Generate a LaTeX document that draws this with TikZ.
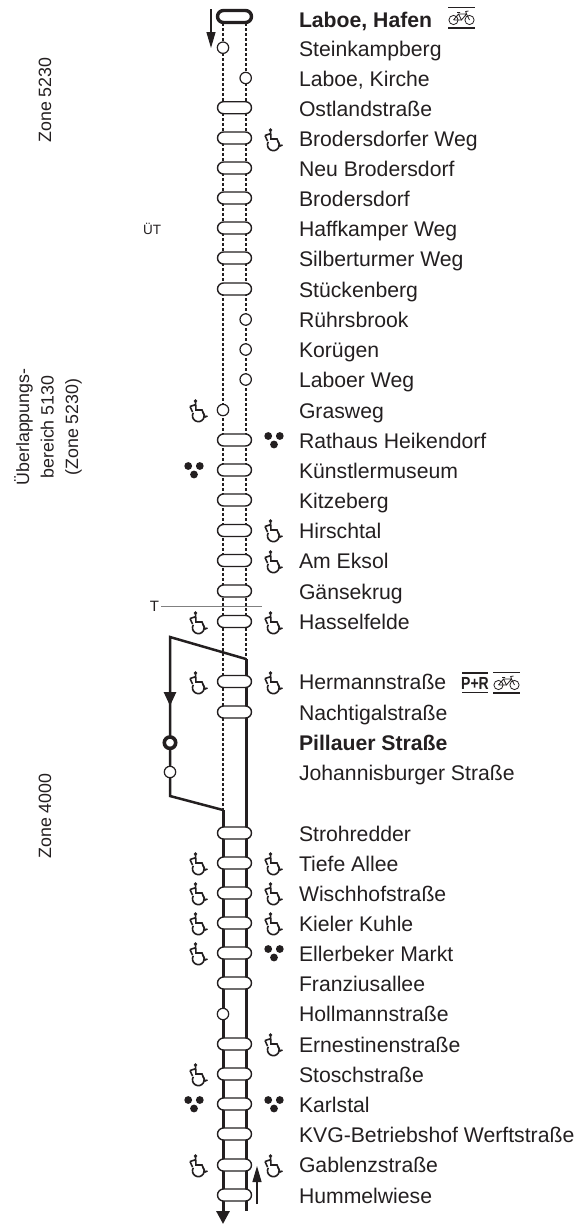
\documentclass[tikz,border=0pt]{standalone}
\usepackage{fontspec}
\setmainfont{Liberation Sans}
\usetikzlibrary{arrows.meta}
\definecolor{ink}{HTML}{231F20}
\tikzset{
  x=1pt,y=-1pt,
  every node/.style={text=ink,inner sep=0pt,outer sep=0pt},
  stoppill/.style={draw=ink,fill=white,line width=1.4pt,minimum width=34pt,minimum height=12pt,rounded corners=6pt},
  endpill/.style={stoppill,line width=3.4pt,minimum width=34pt,minimum height=12pt,rounded corners=6pt},
  halt/.style={circle,draw=ink,fill=white,line width=1.2pt,minimum size=11.4pt},
  bighalt/.style={circle,draw=ink,fill=white,line width=3.6pt,minimum size=11.4pt},
  dotted track/.style={draw=ink,line width=2.9pt,dash pattern=on 2.6pt off 2.4pt},
  solid track/.style={draw=ink,line width=3pt},
  thin arrow/.style={draw=ink,line width=1.2pt,-{Triangle[length=16pt,width=9pt]}},
  label/.style={anchor=base west,font=\fontsize{21.2}{24}\selectfont},
  side/.style={font=\fontsize{17.8}{24.5}\selectfont,rotate=90,align=center},
  icon/.style={draw=ink,line width=1.6pt,fill=none},
  chair/.pic={
    \fill[ink] (-2.5,-9) circle (1.9);
    \draw[icon] (-2.5,-8) -- (-2,0) -- (4,0) -- (7,7) -- (9.5,6);
    \draw[icon] (-8,-3.5) -- (-2,-5.5);
    \draw[icon] (-8,-3.5) -- (-5.5,2);
    \draw[icon] (-4.75,2.8) arc[start angle=210,end angle=-40,radius=5.9];
  },
  dots/.pic={
    \fill[ink] (-5.8,-4) circle (3.9) (5.8,-4) circle (3.9) (0,4.5) circle (3.9);
  },
  bike/.pic={
    \draw[ink,line width=1.2pt] (-13.5,-10) -- (13.5,-10) (-13.5,10.5) -- (13.5,10.5);
    \draw[ink,line width=.8pt] (-8,2.5) circle (4.6) (8,2.5) circle (4.6)
      (-8,2.5) -- (-3,-3.5) -- (5,-3.5) -- (8,2.5) (-3,-3.5) -- (0,2.5) -- (5,-3.5) (0,2.5) -- (-8,2.5)
      (-4.5,-5) -- (-1.5,-5) (5,-3.5) -- (4.2,-6) -- (7,-6.5);
  },
}
\begin{document}
\begin{tikzpicture}
\useasboundingbox (0,0) rectangle (575,1224);
\coordinate (Ltop) at (223,18);
\coordinate (Rtop) at (246,18);
\coordinate (Lchange) at (223,810);
\coordinate (Rchange) at (246,659);
\coordinate (Lend) at (223,1210);
\coordinate (Rend) at (246,1211);
\coordinate (Dtop) at (170,637);
\coordinate (Dbot) at (170,796);
\coordinate (Larrowend) at (223,1224);
\path[dotted track] (Ltop) -- (Lchange);
\path[dotted track] (Rtop) -- (Rchange);
\path[solid track] (Lchange) -- (Lend);
\path[solid track] (Rchange) -- (Rend);
\draw[ink,line width=2.5pt,line join=miter] (Rchange) -- (Dtop) -- (Dbot) -- (Lchange);
\draw[ink,line width=3pt,-{Triangle[length=13pt,width=13pt]}] (Lend) -- (Larrowend);
\coordinate (Darrow) at (170,706);
\draw[ink,line width=2.5pt,-{Triangle[length=14pt,width=12pt]}] (Dtop) -- (Darrow);
\node[anchor=center,font=\fontsize{15}{17}\selectfont] (tlabel) at (154.5,606) {T};
\coordinate (tend) at (262,606.5);
\draw[gray,line width=.6pt] (tlabel.east) ++(2,0.5) -- (tend);
\foreach \n/\x/\y/\st in {
 s1/234.5/16.5/endpill,
 s2/223/47.7/halt, s3/245.7/78/halt,
 s4/234.5/107.7/stoppill, s5/234.5/138/stoppill, s6/234.5/168/stoppill, s7/234.5/198/stoppill,
 s8/234.5/228/stoppill, s9/234.5/258/stoppill, s10/234.5/289/stoppill,
 s11/245.7/319.5/halt, s12/245.7/349.5/halt, s13/245.7/379.5/halt, s14/223/410/halt,
 s15/234.5/440/stoppill, s16/234.5/470/stoppill, s17/234.5/500/stoppill, s18/234.5/530.5/stoppill,
 s19/234.5/560.5/stoppill, s20/234.5/591/stoppill, s21/234.5/621.5/stoppill,
 s22/234.5/681.5/stoppill, s23/234.5/712/stoppill,
 s24/170/742.7/bighalt, s25/170/772/halt,
 s26/234.5/833/stoppill, s27/234.5/863/stoppill, s28/234.5/893/stoppill, s29/234.5/923/stoppill,
 s30/234.5/953/stoppill, s31/234.5/983/stoppill, s32/223/1014/halt, s33/234.5/1044/stoppill,
 s34/234.5/1074/stoppill, s35/234.5/1104/stoppill, s36/234.5/1134/stoppill, s37/234.5/1165/stoppill,
 s38/234.5/1195/stoppill}
 {\node[\st] (\n) at (\x,\y) {};}
\coordinate (a1s) at (211,9); \coordinate (a1e) at (211,48);
\draw[thin arrow] (a1s) -- (a1e);
\coordinate (a2s) at (257,1204); \coordinate (a2e) at (257,1166);
\draw[thin arrow] (a2s) -- (a2e);
\node[label,font=\fontsize{21.2}{24}\selectfont\bfseries] (l1) at (299,27) {Laboe, Hafen};
\foreach \n/\y/\t in {
 l2/56.5/Steinkampberg, l3/86.5/{Laboe, Kirche}, l4/116.5/Ostlandstraße, l5/146.5/Brodersdorfer Weg,
 l6/176.5/Neu Brodersdorf, l7/206.5/Brodersdorf, l8/236.5/Haffkamper Weg, l9/266.5/Silberturmer Weg,
 l10/297/Stückenberg, l11/327.5/Rührsbrook, l12/357.5/Korügen, l13/387.5/Laboer Weg, l14/418/Grasweg,
 l15/448/Rathaus Heikendorf, l16/478/Künstlermuseum, l17/508/Kitzeberg, l18/538.5/Hirschtal,
 l19/568.5/Am Eksol, l20/599/Gänsekrug, l21/629/Hasselfelde, l22/689.5/Hermannstraße,
 l23/720/Nachtigalstraße, l25/780/Johannisburger Straße, l26/841/Strohredder, l27/871/Tiefe Allee,
 l28/901/Wischhofstraße, l29/931/Kieler Kuhle, l30/961/Ellerbeker Markt, l31/991/Franziusallee,
 l32/1021.5/Hollmannstraße, l33/1052/Ernestinenstraße, l34/1082/Stoschstraße, l35/1112/Karlstal,
 l36/1142/KVG-Betriebshof Werftstraße, l37/1172.5/Gablenzstraße, l38/1203/Hummelwiese}
 {\node[label] (\n) at (299,\y) {\t};}
\node[label,font=\fontsize{21.2}{24}\selectfont\bfseries] (l24) at (299,750) {Pillauer Straße};
\node[side] (z1) at (45,100) {Zone 5230};
\node[side] (z2) at (48,427) {Überlappungs-\\bereich 5130\\(Zone 5230)};
\node[side] (z3) at (45,816) {Zone 4000};
\node[font=\fontsize{13.5}{16}\selectfont] (ut) at (152,229) {ÜT};
\foreach \x/\y in {273/139,273/530,273/561,273/622,273/682,273/863,273/893,273/923,273/1044,273/1165,
 198/410,198/622,198/682,198/863,198/893,198/923,198/953,198/1074,198/1165}
 {\pic at (\x,\y) {chair};}
\foreach \x/\y in {274/440,274/953,274/1104,194/470,194/1104}
 {\pic at (\x,\y) {dots};}
\pic at (461.5,17.5) {bike};
\pic at (506.5,682.5) {bike};
\node[xscale=.8,font=\fontsize{17.5}{20}\selectfont\bfseries] (pr) at (475,683) {P+R};
\coordinate (pra) at (462,673); \coordinate (prb) at (488,673);
\coordinate (prc) at (462,692.5); \coordinate (prd) at (488,692.5);
\draw[ink,line width=1.2pt] (pra) -- (prb) (prc) -- (prd);
\end{tikzpicture}
\end{document}
